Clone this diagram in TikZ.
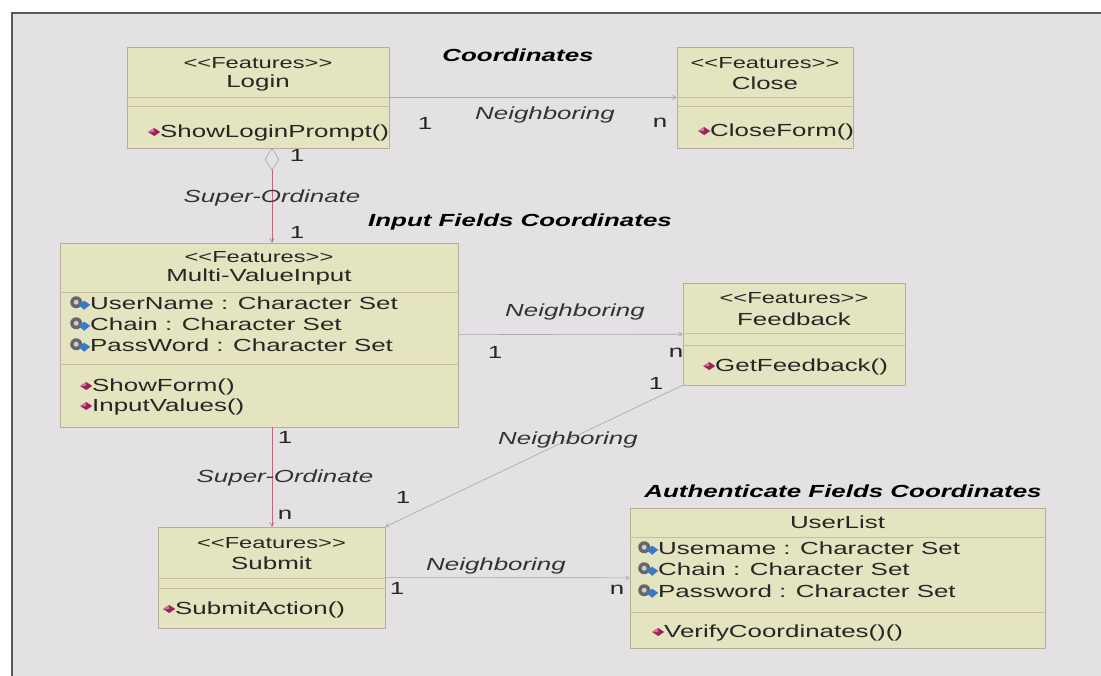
\documentclass[tikz,border=0pt]{standalone}
\usepackage{fontspec}
\setmainfont{Liberation Sans}[FakeStretch=1.48]
\usepackage{tikz}
\usetikzlibrary{shapes,arrows}
\definecolor{bggray}{HTML}{E3E1E4}
\definecolor{boxfill}{HTML}{E4E4C0}
\definecolor{boxline}{HTML}{B8AE98}
\definecolor{divline}{HTML}{C6C09E}
\definecolor{linegray}{HTML}{A9A3AA}
\definecolor{linered}{HTML}{C0687A}
\definecolor{opred}{HTML}{A0205A}
\definecolor{attblue}{HTML}{3A78C8}
\tikzstyle{cnode} = [rectangle, draw=boxline, fill=boxfill, inner sep=0]
\tikzstyle{tnode} = [inner sep=0, font=\fontsize{17.5}{20}\selectfont, text=black!85]
\tikzstyle{snode} = [inner sep=0, font=\fontsize{16}{20}\selectfont, text=black!85]
\tikzstyle{mnode} = [tnode, anchor=west]
\tikzstyle{lbl} = [inner sep=0, font=\fontsize{17.5}{20}\selectfont\itshape, text=black!80]
\tikzstyle{title} = [inner sep=0, font=\fontsize{17.5}{20}\selectfont\bfseries\itshape]
\tikzstyle{div} = [draw=divline]
\tikzstyle{frame} = [draw=black!65, line width=2.5pt]
\tikzstyle{line} = [draw=linegray, line width=0.6pt, ->, >=angle 60]
\newcommand{\opicon}{\tikz[x=1pt,y=1pt,baseline=-5.5pt]{\fill[opred] (0,0) -- (6,4) -- (12,0) -- (6,-4) -- cycle; \fill[opred!60!white] (0,0) -- (6,4) -- (6,0) -- cycle;}}
\newcommand{\attricon}{\tikz[x=1pt,y=1pt,baseline=-5.5pt]{\fill[black!60] (6,1.5) circle (6); \fill[black!20] (6,1.5) circle (2.5); \fill[attblue] (8,-1) -- (14,3) -- (20,-1) -- (14,-6) -- cycle;}}

\begin{document}
\begin{tikzpicture}[x=1pt, y=-1pt]
\useasboundingbox (0,0) rectangle (1101,676);
\fill [white] (0,0) rectangle (1101,676);
\fill [bggray] (12,13) rectangle (1101,676);
\path [frame] (12,676) -- (12,13) -- (1101,13);

% classes
\node [cnode, minimum width=262, minimum height=101] (login) at (258,97.5) {};
\node [cnode, minimum width=176, minimum height=101] (close) at (765,97.5) {};
\node [cnode, minimum width=398, minimum height=184] (multi) at (259,335) {};
\node [cnode, minimum width=222, minimum height=102] (feedback) at (794,334) {};
\node [cnode, minimum width=227, minimum height=101] (submit) at (271.5,577.5) {};
\node [cnode, minimum width=415, minimum height=140] (userlist) at (837.5,578) {};

\path [div] (login.west |- 0,97) -- (login.east |- 0,97);
\path [div] (login.west |- 0,106) -- (login.east |- 0,106);
\path [div] (close.west |- 0,97) -- (close.east |- 0,97);
\path [div] (close.west |- 0,106) -- (close.east |- 0,106);
\path [div] (multi.west |- 0,292) -- (multi.east |- 0,292);
\path [div] (multi.west |- 0,364) -- (multi.east |- 0,364);
\path [div] (feedback.west |- 0,333) -- (feedback.east |- 0,333);
\path [div] (feedback.west |- 0,345) -- (feedback.east |- 0,345);
\path [div] (submit.west |- 0,578) -- (submit.east |- 0,578);
\path [div] (submit.west |- 0,588) -- (submit.east |- 0,588);
\path [div] (userlist.west |- 0,537) -- (userlist.east |- 0,537);
\path [div] (userlist.west |- 0,612) -- (userlist.east |- 0,612);

\node [snode] (loginst) at (258,63) {<{}<Features>{}>};
\node [tnode] (loginnm) at (258,83) {Login};
\node [mnode] (loginop) at (148,133) {\opicon ShowLoginPrompt()};
\node [snode] (closest) at (765,63) {<{}<Features>{}>};
\node [tnode] (closenm) at (765,83) {Close};
\node [mnode] (closeop) at (698,132) {\opicon CloseForm()};
\node [snode] (multist) at (259,257) {<{}<Features>{}>};
\node [tnode] (multinm) at (259,277) {Multi-ValueInput};
\node [mnode] (multiat1) at (70,303) {\attricon UserName : Character Set};
\node [mnode] (multiat2) at (70,324) {\attricon Chain : Character Set};
\node [mnode] (multiat3) at (70,345) {\attricon PassWord : Character Set};
\node [mnode] (multiop1) at (80,387) {\opicon ShowForm()};
\node [mnode] (multiop2) at (80,407) {\opicon InputValues()};
\node [snode] (feedst) at (794,298) {<{}<Features>{}>};
\node [tnode] (feednm) at (794,319) {Feedback};
\node [mnode] (feedop) at (703,367) {\opicon GetFeedback()};
\node [snode] (subst) at (271.5,543) {<{}<Features>{}>};
\node [tnode] (subnm) at (271.5,563) {Submit};
\node [mnode] (subop) at (163,610) {\opicon SubmitAction()};
\node [tnode] (usernm) at (837.5,522) {UserList};
\node [mnode] (userat1) at (638,548) {\attricon Usemame : Character Set};
\node [mnode] (userat2) at (638,569) {\attricon Chain : Character Set};
\node [mnode] (userat3) at (638,591) {\attricon Password : Character Set};
\node [mnode] (userop) at (652,633) {\opicon VerifyCoordinates()()};

% titles
\node [title] (ttop) at (518,55) {Coordinates};
\node [title] (tinput) at (520,222) {Input Fields Coordinates};
\node [title] (tauth) at (843,491) {Authenticate Fields Coordinates};

% connectors
\node [diamond, draw=black!45, fill=bggray, minimum width=14, minimum height=22, inner sep=0, anchor=north] (agg) at (272,148) {};
\path [line, draw=linered] (agg) -- (agg |- multi.north);
\path [line, draw=linered] (multi.south -| agg) -- (submit.north -| agg);
\path [line] (login) -- (close);
\path [line] (multi) -- (feedback);
\path [line] (feedback.south west) -- (submit.north east);
\path [line] (submit) -- (userlist);

\node [tnode] (m1) at (425,123) {1};
\node [tnode] (m2) at (660,123) {n};
\node [lbl] (n1) at (545,115) {Neighboring};
\node [tnode] (m3) at (297,155) {1};
\node [lbl] (s1) at (272,198) {Super-Ordinate};
\node [tnode] (m4) at (297,232) {1};
\node [lbl] (n2) at (575,312) {Neighboring};
\node [tnode] (m5) at (495,352) {1};
\node [tnode] (m6) at (676,353) {n};
\node [tnode] (m7) at (656,383) {1};
\node [lbl] (n3) at (568,440) {Neighboring};
\node [tnode] (m8) at (403,497) {1};
\node [tnode] (m9) at (285,437) {1};
\node [lbl] (s2) at (285,478) {Super-Ordinate};
\node [tnode] (m10) at (285,515) {n};
\node [lbl] (n4) at (496,566) {Neighboring};
\node [tnode] (m11) at (397,588) {1};
\node [tnode] (m12) at (617,590) {n};
\end{tikzpicture}
\end{document}
